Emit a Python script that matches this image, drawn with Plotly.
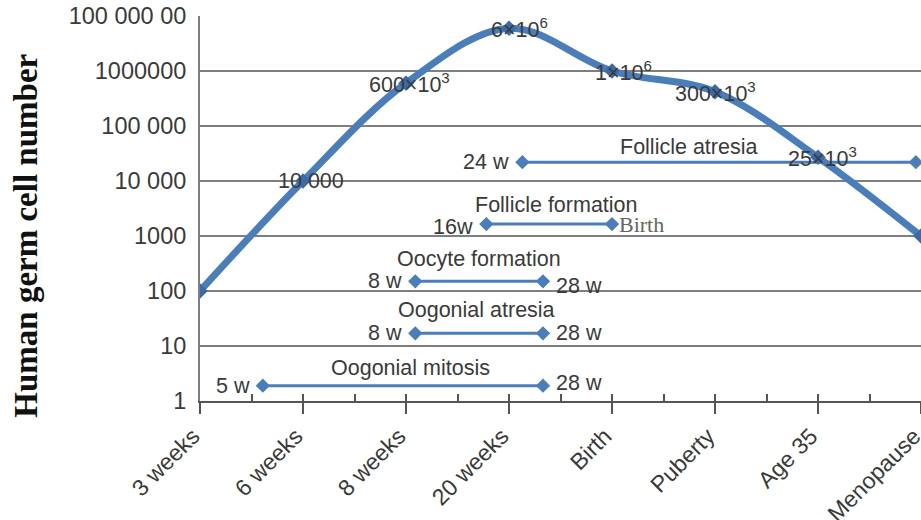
import numpy as np
import plotly.graph_objects as go

# ---------------- data ----------------
stages = ["3 weeks", "6 weeks", "8 weeks", "20 weeks", "Birth", "Puberty", "Age 35", "Menopause"]
stage_pos = list(range(len(stages)))
cell_counts = [100, 10000, 600e3, 6e6, 1e6, 4.2e5, 27e3, 1000]
count_labels = ["", "10 000", "600×10<sup>3</sup>", "6×10<sup>6</sup>", "1×10<sup>6</sup>",
                "300×10<sup>3</sup>", "25×10<sup>3</sup>", ""]

events = ["Follicle atresia", "Follicle formation", "Oocyte formation", "Oogonial atresia", "Oogonial mitosis"]
event_start = [3.13, 2.78, 2.09, 2.09, 0.61]
event_end = [6.95, 4.0, 3.33, 3.33, 3.33]
event_level = [22000, 1650, 150, 17, 1.9]
start_labels = ["24 w", "16w", "8 w", "8 w", "5 w"]
end_labels = ["", "Birth", "28 w", "28 w", "28 w"]

y_tickvals = [1, 10, 100, 1000, 1e4, 1e5, 1e6, 1e7]
y_ticktext = ["1", "10", "100", "1000", "10 000", "100 000", "1000000", "100 000 00"]

# ---------------- styles ----------------
BLUE = "#4a7ebb"
TXT = "#3a3a3a"
FONT = "Liberation Sans, Arial, sans-serif"
SERIF = "Liberation Serif, Times New Roman, serif"
label_xshift = [0, 8, 3, 10, 11, 0, 4, 0]
title_xshift = [-31, 7, 0, -3, 8]
title_yshift = [15, 19, 22, 23, 18]
end_yshift = [0, 0, -5, 0, 3]
start_yshift = [0, -3, 0, 0, 0]

fig = go.Figure()

# range bars
for i, ev in enumerate(events):
    fig.add_trace(go.Scatter(
        x=[event_start[i], event_end[i]], y=[event_level[i], event_level[i]],
        mode="lines+markers", line=dict(color=BLUE, width=3),
        marker=dict(symbol="diamond", size=11, color=BLUE),
        showlegend=False, hoverinfo="skip"))

# main curve
fig.add_trace(go.Scatter(
    x=stage_pos, y=cell_counts, mode="lines+markers",
    line=dict(color=BLUE, width=7, shape="spline", smoothing=1.0),
    marker=dict(symbol="diamond", size=12, color="#3d6aa6"),
    showlegend=False, hoverinfo="skip"))

# helper for overlay axis (minor/inside ticks)
fig.add_trace(go.Scatter(x=[stage_pos[0]], y=[cell_counts[0]], xaxis="x2", mode="markers",
                         marker=dict(opacity=0), showlegend=False, hoverinfo="skip"))

ann = []
for i, t in enumerate(count_labels):
    if t:
        ann.append(dict(x=stage_pos[i], y=np.log10(cell_counts[i]), xref="x", yref="y", text=t,
                        showarrow=False, xanchor="center", yanchor="middle", xshift=label_xshift[i],
                        font=dict(family=FONT, size=21.5, color=TXT)))
for i, ev in enumerate(events):
    ly = np.log10(event_level[i])
    ann.append(dict(x=(event_start[i] + event_end[i]) / 2, y=ly, xref="x", yref="y", text=ev,
                    showarrow=False, xanchor="center", yanchor="middle",
                    xshift=title_xshift[i], yshift=title_yshift[i],
                    font=dict(family=FONT, size=21.5, color=TXT)))
    ann.append(dict(x=event_start[i], y=ly, xref="x", yref="y", text=start_labels[i],
                    showarrow=False, xanchor="right", yanchor="middle", xshift=-11, yshift=start_yshift[i],
                    font=dict(family=FONT, size=21.5, color=TXT)))
    if end_labels[i]:
        serif = end_labels[i] == "Birth"
        ann.append(dict(x=event_end[i], y=ly, xref="x", yref="y", text=end_labels[i],
                        showarrow=False, xanchor="left", yanchor="middle",
                        xshift=5 if serif else 11, yshift=end_yshift[i],
                        font=dict(family=SERIF if serif else FONT,
                                  size=22 if serif else 21.5, color="#666" if serif else TXT)))

ann.append(dict(x=-0.241, y=0.43, xref="paper", yref="paper", text="<b>Human germ cell number</b>",
                textangle=-90, showarrow=False, xanchor="center", yanchor="middle",
                font=dict(family=SERIF, size=33, color="#111")))

fig.update_layout(
    width=921, height=520,
    margin=dict(l=200, r=0, t=16, b=119),
    paper_bgcolor="white", plot_bgcolor="white",
    annotations=ann,
    xaxis=dict(range=[0, 7], tickvals=stage_pos, ticktext=stages, tickangle=-45,
               ticks="outside", ticklen=11, tickwidth=1.5, tickcolor="#555",
               ticklabeloverflow="allow", ticklabelshift=-7,
               showline=True, linecolor="#555", linewidth=1.5, showgrid=False, zeroline=False,
               automargin=False, tickfont=dict(family=FONT, size=23, color=TXT)),
    xaxis2=dict(range=[0, 7], overlaying="x", anchor="y", side="bottom",
                tickvals=[v / 2 for v in range(0, 15)], ticks="inside", ticklen=7, tickwidth=1.5,
                tickcolor="#555", showticklabels=False, showgrid=False, showline=False,
                zeroline=False, automargin=False),
    yaxis=dict(type="log", range=[0, 7], tickvals=y_tickvals, ticktext=y_ticktext,
               ticks="outside", ticklen=7, tickcolor="rgba(0,0,0,0)",
               showgrid=True, gridcolor="#7f7f7f", gridwidth=2,
               showline=True, linecolor="#7f7f7f", linewidth=2, zeroline=False,
               automargin=False, tickfont=dict(family=FONT, size=23.5, color=TXT)),
)

fig.write_html("out.html", config={"displayModeBar": False},
               post_script="document.body.style.margin='0';document.body.style.overflow='hidden';")
